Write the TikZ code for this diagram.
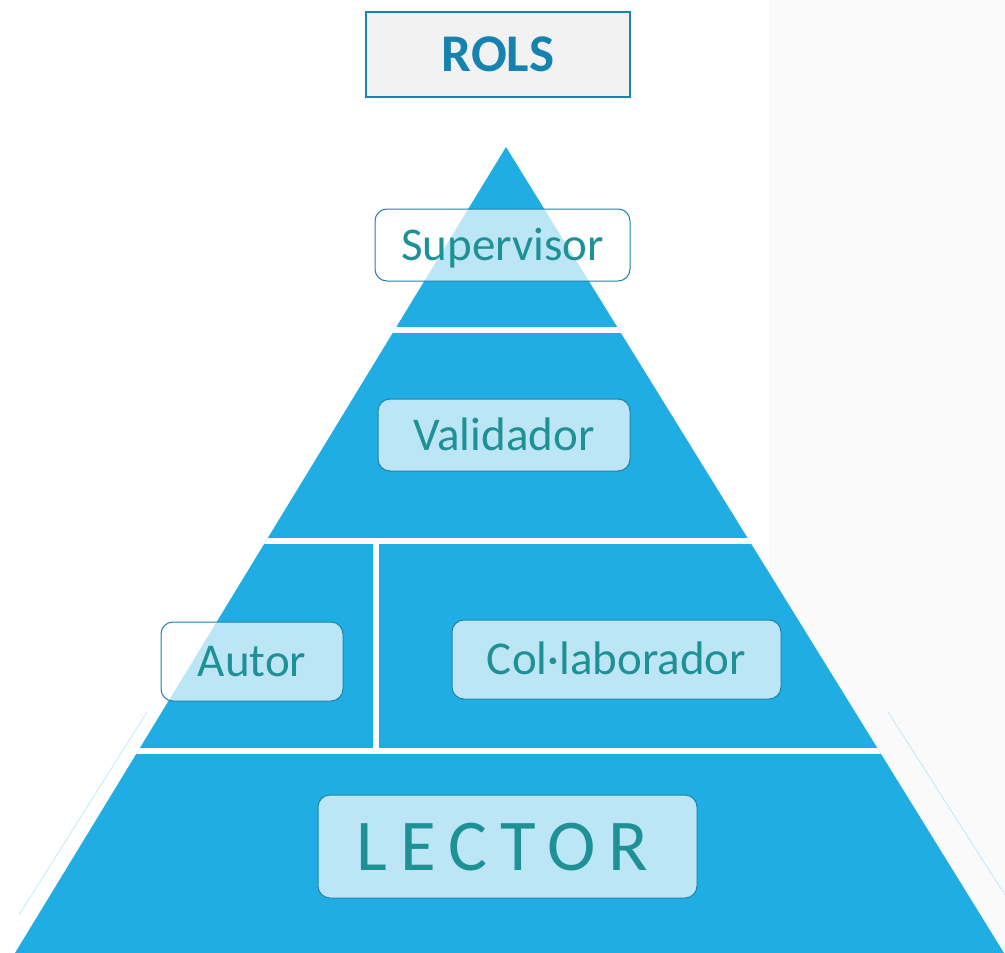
\documentclass[tikz,border=0pt]{standalone}
\usepackage{fontspec}
\setmainfont{Carlito}
\usetikzlibrary{positioning}
\definecolor{pyrblue}{RGB}{31,173,228}
\definecolor{edgeblue}{RGB}{27,132,171}
\definecolor{tealtext}{RGB}{30,145,150}
\definecolor{titleblue}{RGB}{22,130,175}
\definecolor{panelgray}{RGB}{250,250,250}
\definecolor{titlegray}{RGB}{242,242,242}
\definecolor{faintblue}{RGB}{197,232,248}

\begin{document}
\begin{tikzpicture}[
        x=1pt, y=-1pt,
        role/.style={rectangle, draw=edgeblue, fill=white, fill opacity=0.7, text opacity=1, rounded corners=12pt, line width=1pt, text=tealtext, align=center, inner sep=0pt, text height=30pt, text depth=0pt, font=\fontsize{47}{52}\selectfont},
        heading/.style={rectangle, draw=edgeblue, fill=titlegray, line width=1.6pt, text=titleblue, inner sep=0pt, text height=34pt, text depth=0pt, font=\fontsize{53}{60}\selectfont\bfseries}
    ]
        \useasboundingbox (0,0) rectangle (1005,953);
        \fill[white] (0,0) rectangle (1005,953);
        \fill[panelgray] (769,0) rectangle (1005,953);

        % pyramid
        \coordinate (apex) at (506,147);
        \coordinate (baseleft) at (15,953);
        \coordinate (baseright) at (1004,953);
        \draw[faintblue, line width=0.8pt] (147,712) -- (19,915);
        \draw[faintblue, line width=0.8pt] (888,712) -- (1005,895);
        \fill[pyrblue] (apex) -- (baseright) -- (baseleft) -- cycle;
        \begin{scope}
            \clip (apex) -- (baseright) -- (baseleft) -- cycle;
            \draw[white, line width=6pt] (0,330) -- (1005,330);
            \draw[white, line width=6pt] (0,540.5) -- (1005,540.5);
            \draw[white, line width=6pt] (0,750.5) -- (1005,750.5);
            \draw[white, line width=6pt] (375.5,540) -- (375.5,750);
        \end{scope}

        \node[heading, minimum width=264, minimum height=85] (rols) at (498,54.5) {ROLS};
        \node[role, minimum width=255, minimum height=72] (supervisor) at (502.5,245) {Supervisor};
        \node[role, minimum width=252, minimum height=72] (validador) at (504,435) {Validador};
        \node[role, minimum width=182, minimum height=79] (autor) at (252,661.5) {Autor};
        \node[role, minimum width=329, minimum height=79] (collaborador) at (616.5,659.5) {Col·laborador};
        \node[role, minimum width=379, minimum height=103, text height=47pt, font=\fontsize{73}{80}\selectfont\addfontfeature{LetterSpace=18}] (lector) at (507.5,846.5) {LECTOR\kern10pt};
    \end{tikzpicture}
\end{document}
